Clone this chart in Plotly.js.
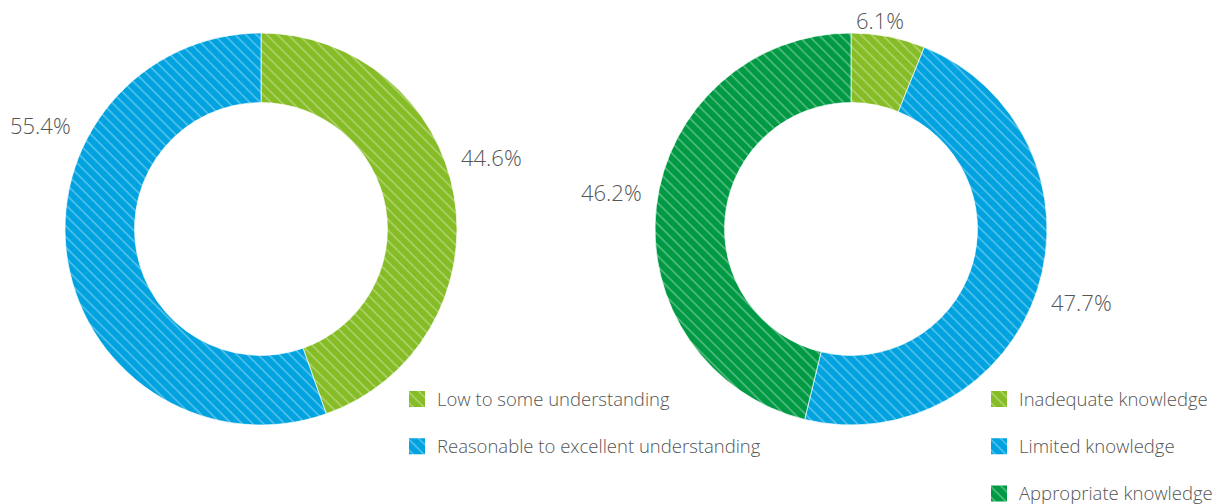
<!DOCTYPE html>
<html><head><meta charset="utf-8">
<script src="https://cdn.plot.ly/plotly-3.0.1.min.js"></script>
<style>html,body{margin:0;padding:0;background:#fff}#chart{width:1216px;height:504px}</style>
</head><body><div id="chart"></div>
<script>
// Data
const leftCategories = ["Low to some understanding", "Reasonable to excellent understanding"];
const leftValues = [44.6, 55.4];
const rightCategories = ["Inadequate knowledge", "Limited knowledge", "Appropriate knowledge"];
const rightValues = [6.1, 47.7, 46.2];

// Styles
const leftColors = ["#86BC25", "#00A3E0"];
const rightColors = ["#86BC25", "#00A3E0", "#009A44"];
const textColor = "#555555";
const fontFam = "Open Sans, Noto Sans, sans-serif";

// legend entries: visible text at 18.5px, a blank second line gives the row spacing
const legendLabel = c => "<span style='font-size:18.5px'>" + c + "</span><br> ";

const traces = [
  {
    type: "pie", labels: leftCategories.map(legendLabel), values: leftValues,
    hole: 0.645, sort: false, direction: "clockwise", rotation: 0,
    textinfo: "none", hoverinfo: "percent",
    marker: {colors: leftColors, line: {color: "rgba(255,255,255,0.7)", width: 1}},
    domain: {x: [65/1216, 457/1216], y: [1-425/504, 1-33/504]},
    legend: "legend"
  },
  {
    type: "pie", labels: rightCategories.map(legendLabel), values: rightValues,
    hole: 0.645, sort: false, direction: "clockwise", rotation: 0,
    textinfo: "none", hoverinfo: "percent",
    marker: {colors: rightColors, line: {color: "rgba(255,255,255,0.7)", width: 1}},
    domain: {x: [655/1216, 1047/1216], y: [1-425/504, 1-33/504]},
    legend: "legend2"
  }
];

// value label positions (paper coords)
const leftLabelPos = [[0.4046, 0.6885], [0.0329, 0.752]];
const rightLabelPos = [[0.7237, 0.9603], [0.889, 0.4008], [0.5025, 0.619]];
const labelFont = {size: 22, color: textColor, family: fontFam, weight: 300};
const annotations = [];
leftValues.forEach((v, i) => annotations.push({text: v.toFixed(1) + "%", x: leftLabelPos[i][0], y: leftLabelPos[i][1], xref: "paper", yref: "paper", xanchor: "center", yanchor: "middle", showarrow: false, font: labelFont}));
rightValues.forEach((v, i) => annotations.push({text: v.toFixed(1) + "%", x: rightLabelPos[i][0], y: rightLabelPos[i][1], xref: "paper", yref: "paper", xanchor: "center", yanchor: "middle", showarrow: false, font: labelFont}));

const legendFont = {size: 17, color: textColor, family: fontFam, weight: 300};
const layout = {
  width: 1216, height: 504,
  margin: {l: 0, r: 0, t: 0, b: 0, autoexpand: false},
  paper_bgcolor: "#ffffff",
  showlegend: true,
  legend: {x: 397/1216, y: 1 - 381.5/504, xref: "container", yref: "container", xanchor: "left", yanchor: "top", font: legendFont, valign: "top", bgcolor: "rgba(0,0,0,0)"},
  legend2: {x: 979/1216, y: 1 - 381.5/504, xref: "container", yref: "container", xanchor: "left", yanchor: "top", font: legendFont, valign: "top", bgcolor: "rgba(0,0,0,0)"},
  annotations: annotations
};

function addStripes(gd) {
  const NS = "http://www.w3.org/2000/svg";
  const svg = gd.querySelector("svg.main-svg");
  const defs = document.createElementNS(NS, "defs");
  const p = document.createElementNS(NS, "pattern");
  p.setAttribute("id", "diagStripes");
  p.setAttribute("patternUnits", "userSpaceOnUse");
  p.setAttribute("width", "7.5"); p.setAttribute("height", "7.5");
  p.setAttribute("patternTransform", "rotate(45)");
  const r = document.createElementNS(NS, "rect");
  r.setAttribute("width", "7.5"); r.setAttribute("height", "1.6");
  r.setAttribute("fill", "#ffffff"); r.setAttribute("fill-opacity", "0.33");
  p.appendChild(r); defs.appendChild(p); svg.insertBefore(defs, svg.firstChild);

  gd.querySelectorAll(".pielayer path.surface").forEach(path => {
    const c = path.cloneNode(false);
    c.removeAttribute("class");
    c.setAttribute("style", "fill:url(#diagStripes);stroke:none;pointer-events:none");
    path.parentNode.insertBefore(c, path.nextSibling);
  });
  gd.querySelectorAll(".legendpoints path").forEach(path => {
    path.setAttribute("d", "M8,8H-8V-8H8Z");
    path.style.stroke = "none";
    const c = path.cloneNode(false);
    c.removeAttribute("class");
    c.setAttribute("style", "fill:url(#diagStripes);stroke:none");
    path.parentNode.insertBefore(c, path.nextSibling);
  });
}

Plotly.newPlot("chart", traces, layout, {displayModeBar: false, staticPlot: true}).then(addStripes);
</script></body></html>
